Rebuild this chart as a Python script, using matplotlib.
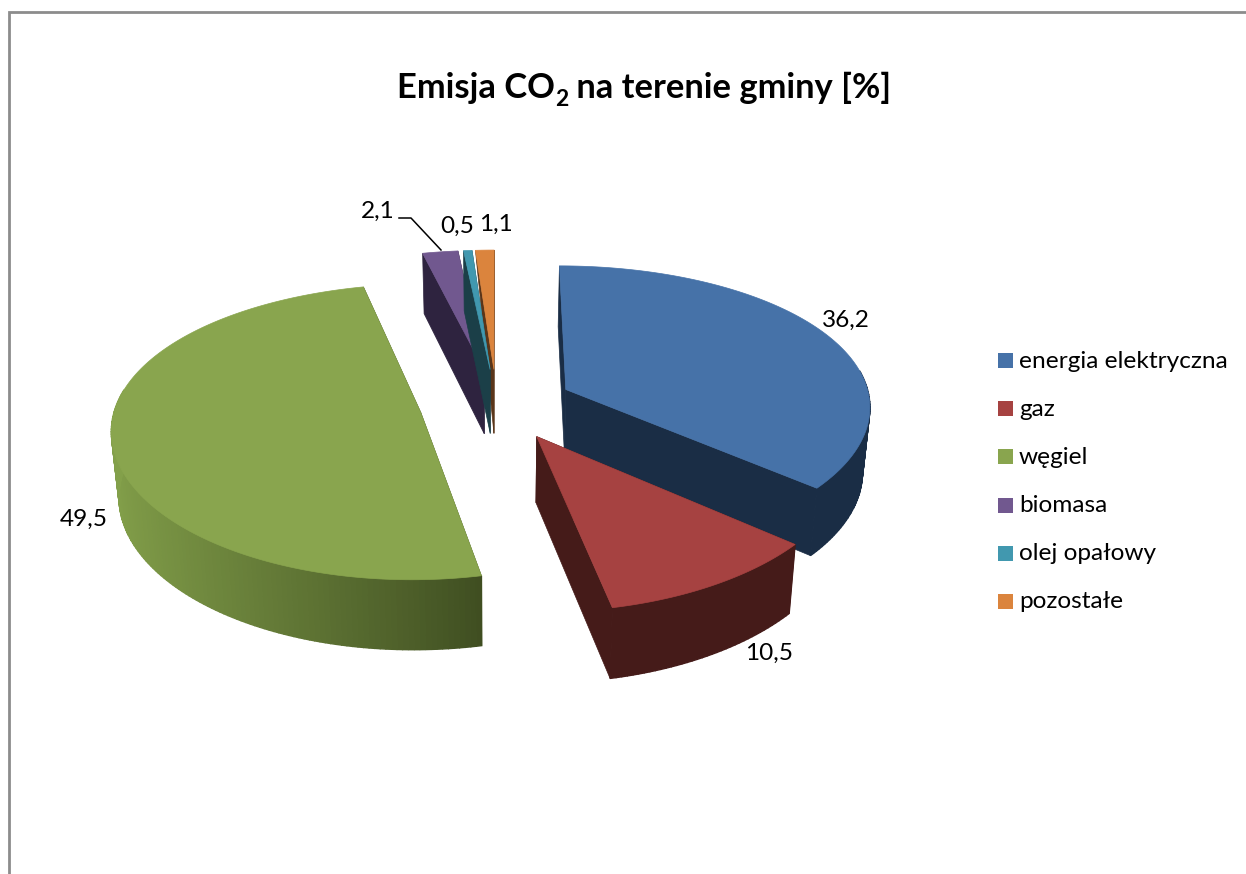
import numpy as np
import matplotlib
matplotlib.use("Agg")
import matplotlib.pyplot as plt
from matplotlib.patches import Polygon, Rectangle

plt.rcParams['font.family'] = ['Lato', 'DejaVu Sans']

# Data
categories = ["energia elektryczna", "gaz", "węgiel", "biomasa", "olej opałowy", "pozostałe"]
values = [36.2, 10.5, 49.5, 2.1, 0.5, 1.1]
value_labels = ["36,2", "10,5", "49,5", "2,1", "0,5", "1,1"]
top_colors = ["#4672a8", "#a64241", "#89a54e", "#71588f", "#4198af", "#db843d"]
side_colors = ["#1a2d45", "#451b19", "#3c4a1f", "#2e233f", "#1b3f48", "#5a3519"]

# Layout of the pie, in pixels
W, H = 1246, 874
CX, CY = 496.5, 404.5
RADIUS = 305
SQUASH = 0.47
EXPLODE = 0.253
DEPTH = 65
PERSP = 0.13
SINK = 0.02


def project(u, v, z=0.0):
    # u right, v towards viewer, z = 0 top face and 1 bottom face
    f = 1 / (1 - PERSP * v)
    x = CX + RADIUS * u * f ** 0.8 * (1 - SINK * z)
    y = CY + RADIUS * SQUASH * v * f + DEPTH * z * np.sqrt(f)
    return np.column_stack([x, y])


def draw_slice(ax, i, start, end):
    mid = (start + end) / 2
    au = np.array([EXPLODE * np.sin(mid)])
    av = np.array([-EXPLODE * np.cos(mid)])
    t = np.linspace(start, end, max(int((end - start) * 60), 3))
    rim_u = au[0] + np.sin(t)
    rim_v = av[0] - np.cos(t)

    # flat cut faces
    for k in (0, -1):
        rim_top = project(rim_u[[k]], rim_v[[k]], 0)
        rim_bottom = project(rim_u[[k]], rim_v[[k]], 1)
        if i == 5 and k == 0:
            # the last sliver barely shows its side
            pts = np.vstack([project(au, av, 0), rim_top, project(au, av, 1)])
        else:
            pts = np.vstack([project(au, av, 0), rim_top, rim_bottom, project(au, av, 1)])
        ax.add_patch(Polygon(pts, fc=side_colors[i], ec=side_colors[i], lw=0.5))

    # outer wall in strips, the green one is shaded along the rim
    c0 = np.array(matplotlib.colors.to_rgb(side_colors[i]))
    c1 = np.array(matplotlib.colors.to_rgb("#83a04a"))
    for j in range(len(t) - 1):
        if np.cos(t[j]) > 0.15:
            continue  # back of the pie, hidden by the top face
        a, b = [j, j + 1], [j + 1, j]
        pts = np.vstack([project(rim_u[a], rim_v[a], 0), project(rim_u[b], rim_v[b], 1)])
        col = side_colors[i]
        if i == 2:
            share = np.clip((0.25 - np.sin(t[j])) / 1.25, 0, 1)
            col = tuple(c0 + (c1 - c0) * share ** 0.9)
        ax.add_patch(Polygon(pts, fc=col, ec=col, lw=1.0))

    # top face
    top = np.vstack([project(au, av, 0), project(rim_u, rim_v, 0)])
    ax.add_patch(Polygon(top, fc=top_colors[i], ec=top_colors[i], lw=0.5))


fig = plt.figure(figsize=(W / 100, H / 100), dpi=100)
ax = fig.add_axes([0, 0, 1, 1])
ax.set_xlim(0, W)
ax.set_ylim(H, 0)
ax.axis("off")

# chart border
ax.plot([9, 9, W], [H, 12, 12], color="#8c8c8c", lw=2, solid_joinstyle="miter")

# slices start at the top and run clockwise
shares = np.array(values) / sum(values) * 2 * np.pi
ends = np.cumsum(shares)
starts = ends - shares
for i in [5, 3, 4, 0, 2, 1]:
    draw_slice(ax, i, starts[i], ends[i])

# data labels
label_pos = [(846, 320), (769, 653), (84, 519), (378, 211), (457, 226), (496, 224)]
for text, (x, y) in zip(value_labels, label_pos):
    ax.text(x, y, text, fontsize=17.6, color="black", ha="center", va="center")

# leader line for 2,1
ax.plot([399, 411, 441], [218, 218, 250], color="black", lw=1.1)

# title, in three pieces so the subscript can sit lower
renderer = fig.canvas.get_renderer()
x = 397
for piece, size, y in [("Emisja CO", 24.8, 98), ("2", 16.5, 106), (" na terenie gminy [%]", 24.8, 98)]:
    txt = ax.text(x, y, piece, fontsize=size, fontweight="bold", ha="left", va="baseline", color="black")
    x += txt.get_window_extent(renderer).width

# legend
legend_y = [360, 408, 456, 505, 553, 601]
for name, col, y in zip(categories, top_colors, legend_y):
    ax.add_patch(Rectangle((998, y - 7.5), 15, 15, fc=col, ec="none"))
    ax.text(1019, y + 1, name, fontsize=17.6, color="black", ha="left", va="center")

fig.savefig("out.png", dpi=100)
